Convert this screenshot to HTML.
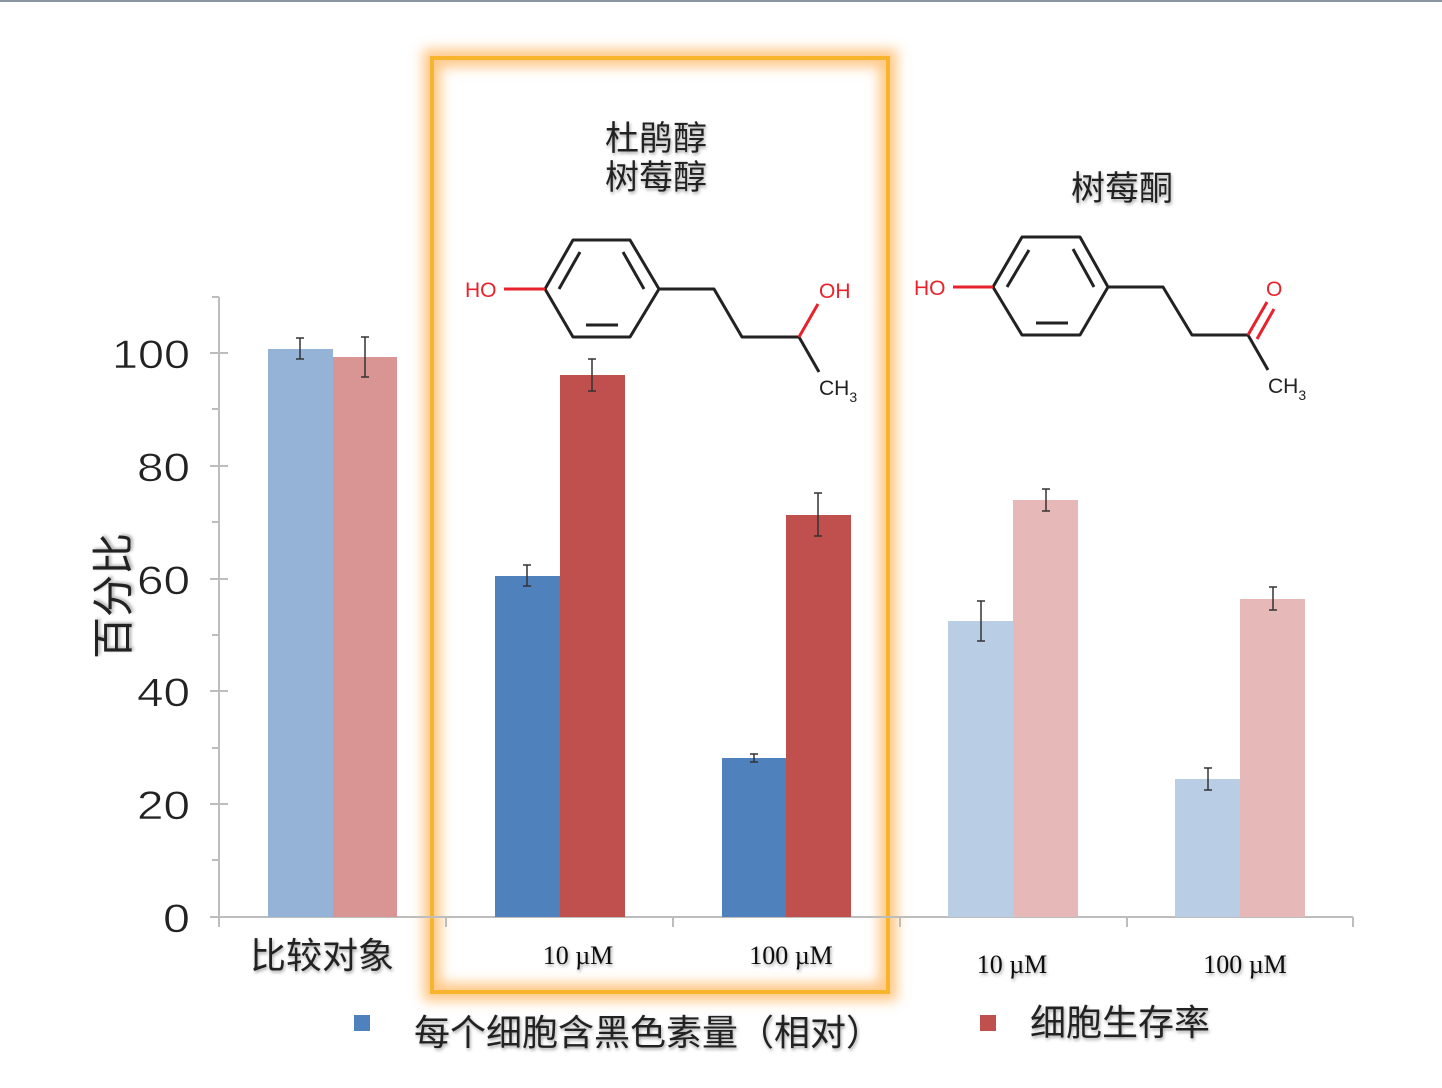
<!DOCTYPE html>
<html><head><meta charset="utf-8"><style>
html,body{margin:0;padding:0;background:#fff;}
svg{display:block;}
</style></head><body>
<svg width="1442" height="1088" viewBox="0 0 1442 1088" xmlns="http://www.w3.org/2000/svg" font-family="'Liberation Sans','Noto Sans CJK SC',sans-serif">
<defs>
<filter id="glow" x="-10%" y="-10%" width="120%" height="120%"><feGaussianBlur stdDeviation="6"/></filter>
<filter id="ts"><feDropShadow dx="1" dy="2" stdDeviation="1.5" flood-color="#000" flood-opacity="0.35"/></filter>
</defs>
<rect width="1442" height="1088" fill="#fff"/>
<rect x="0" y="0" width="1442" height="2" fill="#8a93a0"/>
<rect x="432" y="58" width="456" height="934" fill="none" stroke="#ffc887" stroke-width="18" filter="url(#glow)"/>
<rect x="432" y="58" width="456" height="934" fill="none" stroke="#f8b52c" stroke-width="4"/>
<g stroke="#bdbdbd" stroke-width="2">
<line x1="219" y1="297" x2="219" y2="917"/>
<line x1="212" y1="297" x2="219" y2="297"/>
<line x1="210" y1="353" x2="228" y2="353"/><line x1="212" y1="409" x2="219" y2="409"/>
<line x1="210" y1="466" x2="228" y2="466"/><line x1="212" y1="522" x2="219" y2="522"/>
<line x1="210" y1="579" x2="228" y2="579"/><line x1="212" y1="635" x2="219" y2="635"/>
<line x1="210" y1="691" x2="228" y2="691"/><line x1="212" y1="748" x2="219" y2="748"/>
<line x1="210" y1="804" x2="228" y2="804"/><line x1="212" y1="860" x2="219" y2="860"/>
<line x1="210" y1="917" x2="1353" y2="917"/>
<line x1="219" y1="917" x2="219" y2="927"/><line x1="446" y1="917" x2="446" y2="927"/>
<line x1="673" y1="917" x2="673" y2="927"/><line x1="900" y1="917" x2="900" y2="927"/>
<line x1="1127" y1="917" x2="1127" y2="927"/><line x1="1353" y1="917" x2="1353" y2="927"/>
</g>
<g font-size="40" fill="#222" stroke="#fff" stroke-width="0.6">
<text x="112" y="368" textLength="78" lengthAdjust="spacingAndGlyphs">100</text>
<text x="137" y="481" textLength="53" lengthAdjust="spacingAndGlyphs">80</text>
<text x="137" y="594" textLength="53" lengthAdjust="spacingAndGlyphs">60</text>
<text x="137" y="706" textLength="53" lengthAdjust="spacingAndGlyphs">40</text>
<text x="137" y="819" textLength="53" lengthAdjust="spacingAndGlyphs">20</text>
<text x="163" y="932" textLength="27" lengthAdjust="spacingAndGlyphs">0</text>
</g>
<text transform="translate(128,596) rotate(-90)" font-size="42" fill="#222" text-anchor="middle" filter="url(#ts)">百分比</text>
<rect x="268" y="349" width="65" height="568" fill="#95b3d7"/>
<rect x="333" y="357" width="64" height="560" fill="#d99594"/>
<rect x="495" y="576" width="65" height="341" fill="#4f81bd"/>
<rect x="560" y="375" width="65" height="542" fill="#c0504d"/>
<rect x="722" y="758" width="64" height="159" fill="#4f81bd"/>
<rect x="786" y="515" width="65" height="402" fill="#c0504d"/>
<rect x="948" y="621" width="65" height="296" fill="#b9cde5"/>
<rect x="1013" y="500" width="65" height="417" fill="#e6b9b8"/>
<rect x="1175" y="779" width="65" height="138" fill="#b9cde5"/>
<rect x="1240" y="599" width="65" height="318" fill="#e6b9b8"/>
<g stroke="#333" stroke-width="1.5">
<line x1="300" y1="338" x2="300" y2="359"/><line x1="296" y1="338" x2="304" y2="338"/><line x1="296" y1="359" x2="304" y2="359"/>
<line x1="365" y1="337" x2="365" y2="377"/><line x1="361" y1="337" x2="369" y2="337"/><line x1="361" y1="377" x2="369" y2="377"/>
<line x1="527" y1="565" x2="527" y2="586"/><line x1="523" y1="565" x2="531" y2="565"/><line x1="523" y1="586" x2="531" y2="586"/>
<line x1="592" y1="359" x2="592" y2="391"/><line x1="588" y1="359" x2="596" y2="359"/><line x1="588" y1="391" x2="596" y2="391"/>
<line x1="754" y1="754" x2="754" y2="762"/><line x1="750" y1="754" x2="758" y2="754"/><line x1="750" y1="762" x2="758" y2="762"/>
<line x1="818" y1="493" x2="818" y2="536"/><line x1="814" y1="493" x2="822" y2="493"/><line x1="814" y1="536" x2="822" y2="536"/>
<line x1="981" y1="601" x2="981" y2="641"/><line x1="977" y1="601" x2="985" y2="601"/><line x1="977" y1="641" x2="985" y2="641"/>
<line x1="1046" y1="489" x2="1046" y2="511"/><line x1="1042" y1="489" x2="1050" y2="489"/><line x1="1042" y1="511" x2="1050" y2="511"/>
<line x1="1208" y1="768" x2="1208" y2="790"/><line x1="1204" y1="768" x2="1212" y2="768"/><line x1="1204" y1="790" x2="1212" y2="790"/>
<line x1="1273" y1="587" x2="1273" y2="610"/><line x1="1269" y1="587" x2="1277" y2="587"/><line x1="1269" y1="610" x2="1277" y2="610"/>
</g>
<text x="322" y="968" font-size="36" fill="#222" text-anchor="middle" filter="url(#ts)">比较对象</text>
<g font-family="'Liberation Serif',serif" font-size="26" fill="#111" text-anchor="middle" filter="url(#ts)">
<text x="578" y="964">10 µM</text><text x="791" y="964">100 µM</text>
<text x="1012" y="973">10 µM</text><text x="1245" y="973">100 µM</text>
</g>
<g font-size="34" fill="#222" text-anchor="middle" filter="url(#ts)">
<text x="656" y="150">杜鹃醇</text><text x="656" y="189">树莓醇</text>
<text x="1122" y="200">树莓酮</text>
</g>
<g stroke="#222" stroke-width="3" fill="none" stroke-linejoin="round">
<path d="M545 289 L573 240 L630 240 L659 289 L630 337 L573 337 Z"/>
<path d="M559 289 L580 252 M586 325 L618 325 M623 252 L644 289"/>
<path d="M659 289 L714 289 L742 337 L799 337 M799 337 L819 372"/>
</g>
<line x1="504" y1="289" x2="545" y2="289" stroke="#e8222b" stroke-width="3"/>
<line x1="799" y1="337" x2="818" y2="304" stroke="#e8222b" stroke-width="3"/>
<g font-size="21" fill="#e8222b"><text x="465" y="297">HO</text><text x="819" y="298">OH</text></g>
<text x="819" y="395" font-size="21" fill="#222">CH<tspan font-size="14" dy="7">3</tspan></text>
<g stroke="#222" stroke-width="3" fill="none" stroke-linejoin="round">
<path d="M993 287 L1022 237 L1080 237 L1108 287 L1080 335 L1022 335 Z"/>
<path d="M1007 287 L1029 250 M1036 323 L1068 323 M1073 249 L1094 287"/>
<path d="M1108 287 L1163 287 L1192 335 L1248 335 L1268 370"/>
</g>
<path d="M953 287 L993 287" stroke="#e8222b" stroke-width="3"/>
<path d="M1248 335 L1267 302 M1257 339 L1274 309" stroke="#e8222b" stroke-width="3"/>
<g font-size="21" fill="#e8222b"><text x="914" y="295">HO</text><text x="1266" y="296">O</text></g>
<text x="1268" y="393" font-size="21" fill="#222">CH<tspan font-size="14" dy="7">3</tspan></text>
<rect x="354" y="1015" width="16" height="16" fill="#4f81bd"/>
<text x="414" y="1045" font-size="36" fill="#222" filter="url(#ts)">每个细胞含黑色素量（相对）</text>
<rect x="980" y="1015" width="16" height="16" fill="#c0504d"/>
<text x="1030" y="1035" font-size="36" fill="#222" filter="url(#ts)">细胞生存率</text>
</svg>
</body></html>
